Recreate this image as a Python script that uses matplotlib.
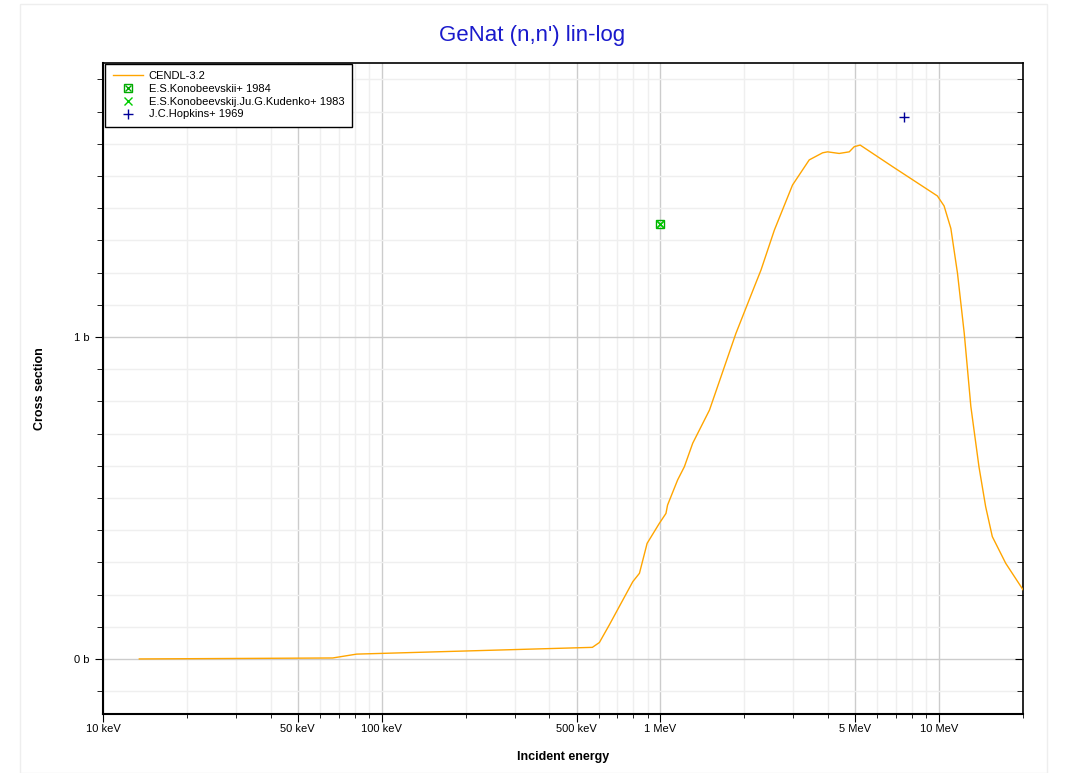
import matplotlib
matplotlib.use("Agg")
import matplotlib.pyplot as plt
from matplotlib.ticker import FixedLocator, MultipleLocator, NullFormatter, FuncFormatter
from matplotlib.legend_handler import HandlerTuple
from matplotlib.patches import Rectangle

plt.rcParams["font.family"] = ["Liberation Sans", "DejaVu Sans"]

# CENDL-3.2 evaluated curve, energy in eV, cross section in barn
cendl_e = [13.5e3, 66.7e3, 81.3e3, 570e3, 604e3, 656e3, 796e3, 841e3, 896e3,
           991e3, 1.047e6, 1.061e6, 1.153e6, 1.219e6, 1.306e6, 1.500e6,
           1.866e6, 2.173e6, 2.296e6, 2.564e6, 2.979e6, 3.42e6, 3.82e6,
           3.98e6, 4.38e6, 4.76e6, 4.96e6, 5.21e6, 6.81e6, 9.86e6, 10.42e6,
           11.02e6, 11.64e6, 12.31e6, 13.0e6, 13.9e6, 14.69e6, 15.52e6,
           17.34e6, 20.0e6]
cendl_xs = [0.0, 0.003, 0.015, 0.036, 0.051, 0.106, 0.240, 0.266, 0.359,
            0.421, 0.452, 0.478, 0.556, 0.597, 0.670, 0.773,
            1.011, 1.156, 1.208, 1.332, 1.472, 1.550, 1.572,
            1.575, 1.570, 1.575, 1.591, 1.596, 1.529, 1.438, 1.407,
            1.337, 1.198, 1.011, 0.784, 0.597, 0.473, 0.380,
            0.297, 0.215]

kono84_e = [1.0e6]
kono84_xs = [1.351]
kono83_e = [1.0e6]
kono83_xs = [1.351]
hopkins_e = [7.5e6]
hopkins_xs = [1.683]

xtick_vals = [1e4, 5e4, 1e5, 5e5, 1e6, 5e6, 1e7]
xtick_labels = ["10 keV", "50 keV", "100 keV", "500 keV", "1 MeV", "5 MeV", "10 MeV"]

fig = plt.figure(figsize=(10.71, 7.73), dpi=100)
fig.patches.append(Rectangle((20 / 1071, 0), 1027 / 1071, 769 / 773,
                             transform=fig.transFigure, fill=False,
                             edgecolor="#eeeeee", linewidth=1))
ax = fig.add_axes([103 / 1071, 59 / 773, 920 / 1071, 650.7 / 773])

ax.plot(cendl_e, cendl_xs, color="orange", linewidth=1, label="CENDL-3.2", zorder=3)
sq, = ax.plot(kono84_e, kono84_xs, linestyle="none", marker="s", markersize=6,
              mfc="none", mec="#00aa00", mew=1, zorder=4)
xx84, = ax.plot(kono84_e, kono84_xs, linestyle="none", marker="x", markersize=5,
                color="#00aa00", mew=1, zorder=4)
xx83, = ax.plot(kono83_e, kono83_xs, linestyle="none", marker="x", markersize=6,
                color="#00cc00", mew=1, zorder=4)
hp, = ax.plot(hopkins_e, hopkins_xs, linestyle="none", marker="+", markersize=7,
              color="#000099", mew=1, zorder=4)

ax.set_xscale("log")
ax.set_xlim(1e4, 2e7)
ax.set_ylim(-0.171, 1.85)

ax.xaxis.set_major_locator(FixedLocator(xtick_vals))
ax.set_xticklabels(xtick_labels)
minor_x = []
for dec in [1e4, 1e5, 1e6, 1e7]:
    for m in [2, 3, 4, 6, 7, 8, 9]:
        if dec * m <= 2e7:
            minor_x.append(dec * m)
ax.xaxis.set_minor_locator(FixedLocator(minor_x))
ax.xaxis.set_minor_formatter(NullFormatter())

ax.yaxis.set_major_locator(MultipleLocator(1))
ax.yaxis.set_minor_locator(MultipleLocator(0.1))
ax.yaxis.set_major_formatter(FuncFormatter(lambda v, p: "%d b" % round(v)))

ax.grid(which="major", color="#cccccc", linewidth=1)
ax.grid(which="minor", color="#efefef", linewidth=1)
ax.set_axisbelow(True)

ax.tick_params(axis="both", which="both", labelsize=8, colors="black")
ax.tick_params(axis="x", which="major", length=6, direction="out", pad=1)
ax.tick_params(axis="x", which="minor", length=3, direction="out")
ax.tick_params(axis="y", which="major", length=6, direction="out", right=True)
ax.tick_params(axis="y", which="minor", length=4, direction="out", right=True)

for s in ["left", "bottom"]:
    ax.spines[s].set_linewidth(1.5)
for s in ["top", "right"]:
    ax.spines[s].set_linewidth(1.2)

# right-side ticks point inward
for t in ax.yaxis.get_major_ticks() + ax.yaxis.get_minor_ticks():
    t.tick2line.set_marker(0)

ax.set_xlabel("Incident energy", fontsize=9, fontweight="bold", labelpad=12.5)
ax.set_ylabel("Cross section", fontsize=9, fontweight="bold", labelpad=20)
fig.suptitle("GeNat (n,n') lin-log", x=0.497, y=0.968, fontsize=16, color="#1a1acc")

leg = ax.legend([ax.lines[0], (sq, xx84), xx83, hp],
                ["CENDL-3.2", "E.S.Konobeevskii+ 1984",
                 "E.S.Konobeevskij.Ju.G.Kudenko+ 1983", "J.C.Hopkins+ 1969"],
                handler_map={tuple: HandlerTuple(ndivide=1)},
                loc="upper left", bbox_to_anchor=(0.002, 1.0), fontsize=8,
                fancybox=False, framealpha=1, edgecolor="black",
                borderpad=0.65, labelspacing=0.25, handlelength=2.7,
                handletextpad=0.55, borderaxespad=0.05)
leg.get_frame().set_linewidth(1)

fig.savefig("out.png", dpi=100)
